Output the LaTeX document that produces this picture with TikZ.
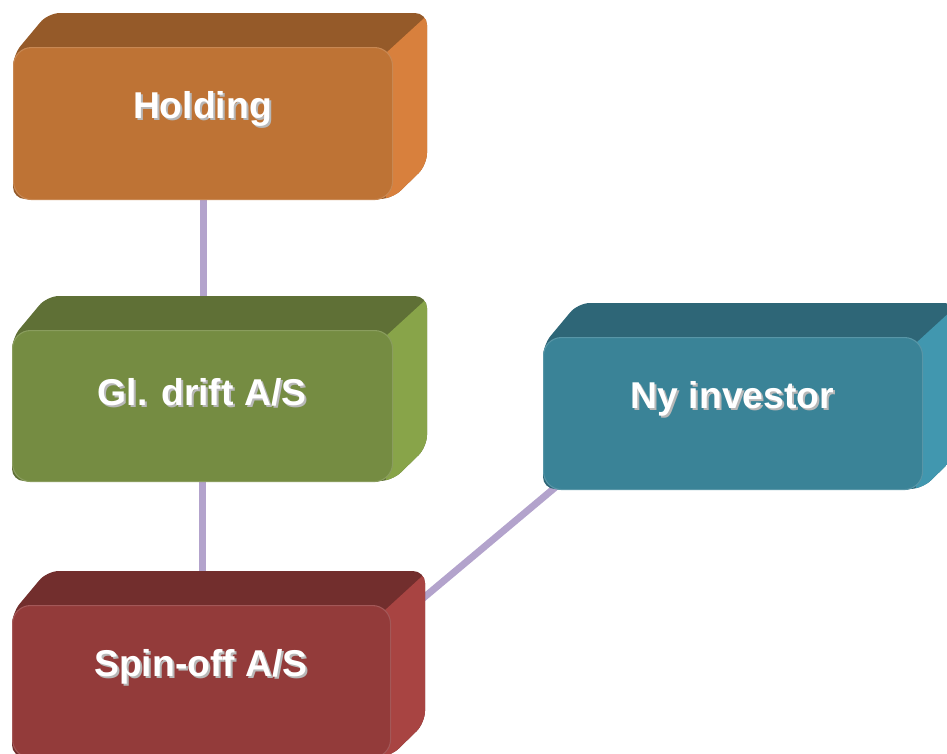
\documentclass[tikz,border=0pt]{standalone}
\usepackage{fontspec}
\setmainfont{Liberation Sans}
\usetikzlibrary{calc,backgrounds}
\definecolor{hfront}{HTML}{BE7335}\definecolor{htop}{HTML}{955A29}\definecolor{hside}{HTML}{D8803D}
\definecolor{gfront}{HTML}{758C42}\definecolor{gtop}{HTML}{5F7036}\definecolor{gside}{HTML}{88A449}
\definecolor{tfront}{HTML}{3A8397}\definecolor{ttop}{HTML}{2E6677}\definecolor{tside}{HTML}{4197AF}
\definecolor{rfront}{HTML}{933B3A}\definecolor{rtop}{HTML}{722E2D}\definecolor{rside}{HTML}{A84442}
\definecolor{link}{HTML}{B3A3CC}
\tikzset{
  boxtxt/.style={text=white,font=\fontsize{28}{34}\selectfont\bfseries,inner sep=0pt},
  boxshadow/.style={text=black!28,font=\fontsize{28}{34}\selectfont\bfseries,inner sep=0pt},
  frontface/.style={rounded corners=13.5pt,inner sep=0pt,anchor=north west,line width=0.8pt},
  linkline/.style={draw=link,line width=5.2pt}
}
% name, x1, y1, x2, y2, front, top, side, text
\newcommand\mybox[9]{%
  \begin{scope}
    \clip[rounded corners=9pt] (#2,#5) -- (#2,{#3+8}) -- ({#2+35},{#3-34}) -- ({#4+35},{#3-34}) -- ({#4+35},{#5-34}) -- (#4,#5) -- cycle;
    \fill[#7] ({#2-5},{#5+5}) rectangle ({#4+45},{#3-45});
    \fill[#8] ({#4-6},{#3+6}) -- ({#4+100},{#3+6-97}) -- ({#4+100},{#5+100}) -- ({#4-6},{#5+100}) -- cycle;
  \end{scope}
  \node[frontface,fill=#6,draw=#6!85!white,minimum width={(#4-#2)*0.75pt},minimum height={(#5-#3)*0.75pt}] (#1) at (#2,#3) {};
  \node[boxshadow] (#1s) at ({(#2+#4)/2+2},{#3+62+2}) {#9};
  \node[boxtxt] (#1t) at ({(#2+#4)/2},{#3+62}) {#9};
}
\begin{document}
\begin{tikzpicture}[x=0.75pt,y=-0.75pt]
\useasboundingbox (0,0) rectangle (947,754);
\mybox{hold}{13}{47}{392}{199}{hfront}{htop}{hside}{Holding}
\mybox{gl}{12}{330}{392}{481}{gfront}{gtop}{gside}{Gl. drift A/S}
\mybox{ny}{543}{337}{922}{489}{tfront}{ttop}{tside}{Ny investor}
\mybox{spin}{12}{605}{390}{757}{rfront}{rtop}{rside}{Spin-off A/S}
\begin{scope}[on background layer]
  \draw[linkline] (hold.south) -- (hold.south |- gl.north);
  \draw[linkline] (gl.south) -- (gl.south |- spin.north);
  \draw[linkline] ($(spin.north east)+(-19,36)$) -- ($(ny.south west)+(40,-26)$);
\end{scope}
\end{tikzpicture}
\end{document}
